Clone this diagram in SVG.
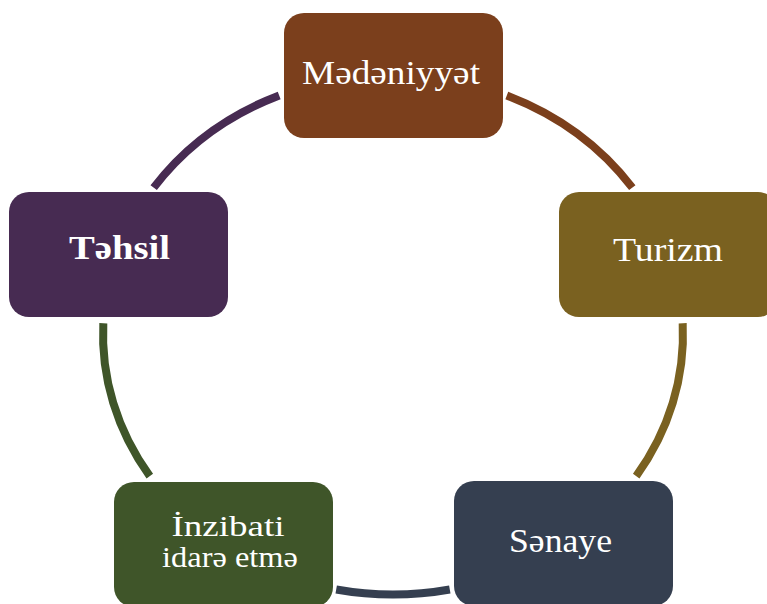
<svg xmlns="http://www.w3.org/2000/svg" width="767" height="604" viewBox="0 0 767 604">
<style>
.arc{fill:none;stroke-width:8;stroke-linecap:butt}
.box{stroke:none}
.lbl{font-family:"Liberation Serif","DejaVu Serif","Times New Roman",serif;font-size:33px;fill:#ffffff;text-anchor:middle}
.sm{font-size:29px}
.b{font-weight:bold}
</style>
<rect width="767" height="604" fill="#ffffff"/>
<g id="connectors">
<path class="arc" stroke="#472B52" d="M153.7,187.6 A290,260 0 0 1 279.2,95.4"/>
<path class="arc" stroke="#7B3F1C" d="M506.8,95.4 A290,260 0 0 1 632.3,187.6"/>
<path class="arc" stroke="#7A6120" d="M682.7,323.2 A290,260 0 0 1 636.2,476.1"/>
<path class="arc" stroke="#353F50" d="M449.8,589.5 A290,260 0 0 1 336.2,589.5"/>
<path class="arc" stroke="#3F5529" d="M149.8,476.1 A290,260 0 0 1 103.3,323.2"/>
</g>
<g id="medeniyyet">
<rect class="box" x="284" y="13" width="219" height="125" rx="20" fill="#7B3F1C"/>
<text class="lbl" x="391" y="83.5" textLength="178" lengthAdjust="spacingAndGlyphs">Mədəniyyət</text>
</g>
<g id="turizm">
<rect class="box" x="559" y="192" width="219" height="125" rx="20" fill="#7A6120"/>
<text class="lbl" x="668" y="261" textLength="110" lengthAdjust="spacingAndGlyphs">Turizm</text>
</g>
<g id="senaye">
<rect class="box" x="454" y="481" width="219" height="125" rx="20" fill="#353F50"/>
<text class="lbl" x="560.5" y="552" textLength="103" lengthAdjust="spacingAndGlyphs">Sənaye</text>
</g>
<g id="inzibati">
<rect class="box" x="114" y="482" width="219" height="125" rx="20" fill="#3F5529"/>
<text class="lbl sm" x="228" y="535.5" textLength="113" lengthAdjust="spacingAndGlyphs">İnzibati</text>
<text class="lbl sm" x="230" y="566.5" textLength="136" lengthAdjust="spacingAndGlyphs">idarə etmə</text>
</g>
<g id="tehsil">
<rect class="box" x="9" y="192" width="219" height="125" rx="20" fill="#472B52"/>
<text class="lbl b" x="119.5" y="259" textLength="101" lengthAdjust="spacingAndGlyphs">Təhsil</text>
</g>
</svg>
